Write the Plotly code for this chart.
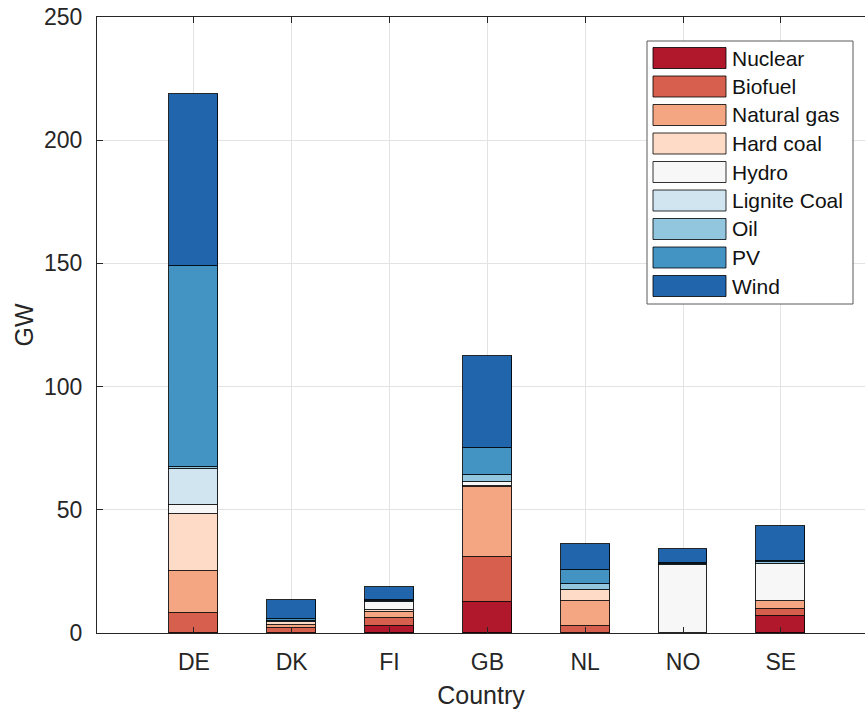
import plotly.graph_objects as go

countries = ["DE", "DK", "FI", "GB", "NL", "NO", "SE"]
sources = ["Nuclear", "Biofuel", "Natural gas", "Hard coal", "Hydro",
           "Lignite Coal", "Oil", "PV", "Wind"]
colors = ["#B2182B", "#D6604D", "#F4A582", "#FDDBC7", "#F7F7F7",
          "#D1E5F0", "#92C5DE", "#4393C3", "#2166AC"]

# GW per country (DE, DK, FI, GB, NL, NO, SE)
nuclear     = [0.0, 0.0, 2.8, 12.5, 0.0, 0.0, 6.8]
biofuel     = [8.2, 2.1, 3.1, 18.2, 2.7, 0.0, 2.9]
natural_gas = [17.1, 1.0, 2.8, 28.5, 10.3, 0.0, 3.4]
hard_coal   = [22.9, 1.3, 0.8, 0.6, 4.3, 0.0, 0.0]
hydro       = [3.8, 0.1, 3.2, 1.5, 0.0, 27.7, 15.0]
lignite     = [14.4, 0.0, 0.0, 0.0, 0.0, 0.0, 0.0]
oil         = [0.8, 0.3, 0.4, 3.0, 2.5, 0.2, 0.6]
pv          = [81.8, 0.9, 0.4, 10.6, 5.9, 0.4, 0.4]
wind        = [69.6, 7.8, 5.0, 37.5, 10.3, 5.8, 14.2]

series = [nuclear, biofuel, natural_gas, hard_coal, hydro, lignite, oil, pv, wind]
xpos = list(range(1, len(countries) + 1))

FONT = "Liberation Sans, Arial, Helvetica, sans-serif"
TXT = "#262626"

fig = go.Figure()
for name, col, vals in zip(sources, colors, series):
    fig.add_trace(go.Bar(
        x=xpos, y=vals, name=name, width=0.5,
        marker=dict(color=col, line=dict(color="rgba(0,0,0,0.85)", width=1)),
        showlegend=False,
    ))

W, H = 865, 712
L, R, T, B = 97, 0, 17, 79
pw, ph = W - L - R, H - T - B

def px_x(p):
    return (p - L) / pw

def px_y(p):
    return (H - B - p) / ph

# legend (built from the series names / colours)
shapes = []
annotations = []
box = dict(x0=647, x1=853, y0=41, y1=304)
shapes.append(dict(type="rect", xref="paper", yref="paper",
                   x0=px_x(box["x0"]), x1=px_x(box["x1"]),
                   y0=px_y(box["y1"]), y1=px_y(box["y0"]),
                   line=dict(color="#5a5a5a", width=1), fillcolor="white",
                   layer="above"))
row0, step = 58, 28.5
for i, (name, col) in enumerate(zip(sources, colors)):
    cy = row0 + i * step
    shapes.append(dict(type="rect", xref="paper", yref="paper",
                       x0=px_x(653), x1=px_x(726),
                       y0=px_y(cy + 10.5), y1=px_y(cy - 10.5),
                       line=dict(color="rgba(0,0,0,0.8)", width=1),
                       fillcolor=col, layer="above"))
    annotations.append(dict(xref="paper", yref="paper", x=px_x(730), y=px_y(cy),
                            text=name, showarrow=False, xanchor="left",
                            yanchor="middle",
                            font=dict(family=FONT, size=21, color="#111111")))

fig.update_layout(
    width=W, height=H,
    margin=dict(l=L, r=R, t=T, b=B, pad=0),
    paper_bgcolor="white", plot_bgcolor="white",
    barmode="stack", bargap=0,
    font=dict(family=FONT, color=TXT),
    shapes=shapes, annotations=annotations,
    showlegend=False,
)
fig.update_xaxes(
    range=[0.01, 7.86], tickvals=xpos, ticktext=countries,
    ticks="inside", ticklen=6, tickcolor=TXT, tickwidth=1,
    showline=True, linecolor=TXT, linewidth=1, mirror="ticks",
    showgrid=True, gridcolor="#e3e3e3", gridwidth=1,
    tickfont=dict(size=23, color=TXT, family=FONT),
    ticklabelstandoff=8,
    title=dict(text="Country", font=dict(size=25, color=TXT, family=FONT), standoff=12),
    zeroline=False,
)
fig.update_yaxes(
    range=[0, 250], tickvals=[0, 50, 100, 150, 200, 250],
    ticks="inside", ticklen=6, tickcolor=TXT, tickwidth=1,
    showline=True, linecolor=TXT, linewidth=1, mirror=False,
    showgrid=True, gridcolor="#e3e3e3", gridwidth=1,
    tickfont=dict(size=23, color=TXT, family=FONT),
    ticklabelstandoff=9,
    title=dict(text="GW", font=dict(size=25, color=TXT, family=FONT), standoff=3),
    zeroline=False,
)

fig.write_html("out.html")
